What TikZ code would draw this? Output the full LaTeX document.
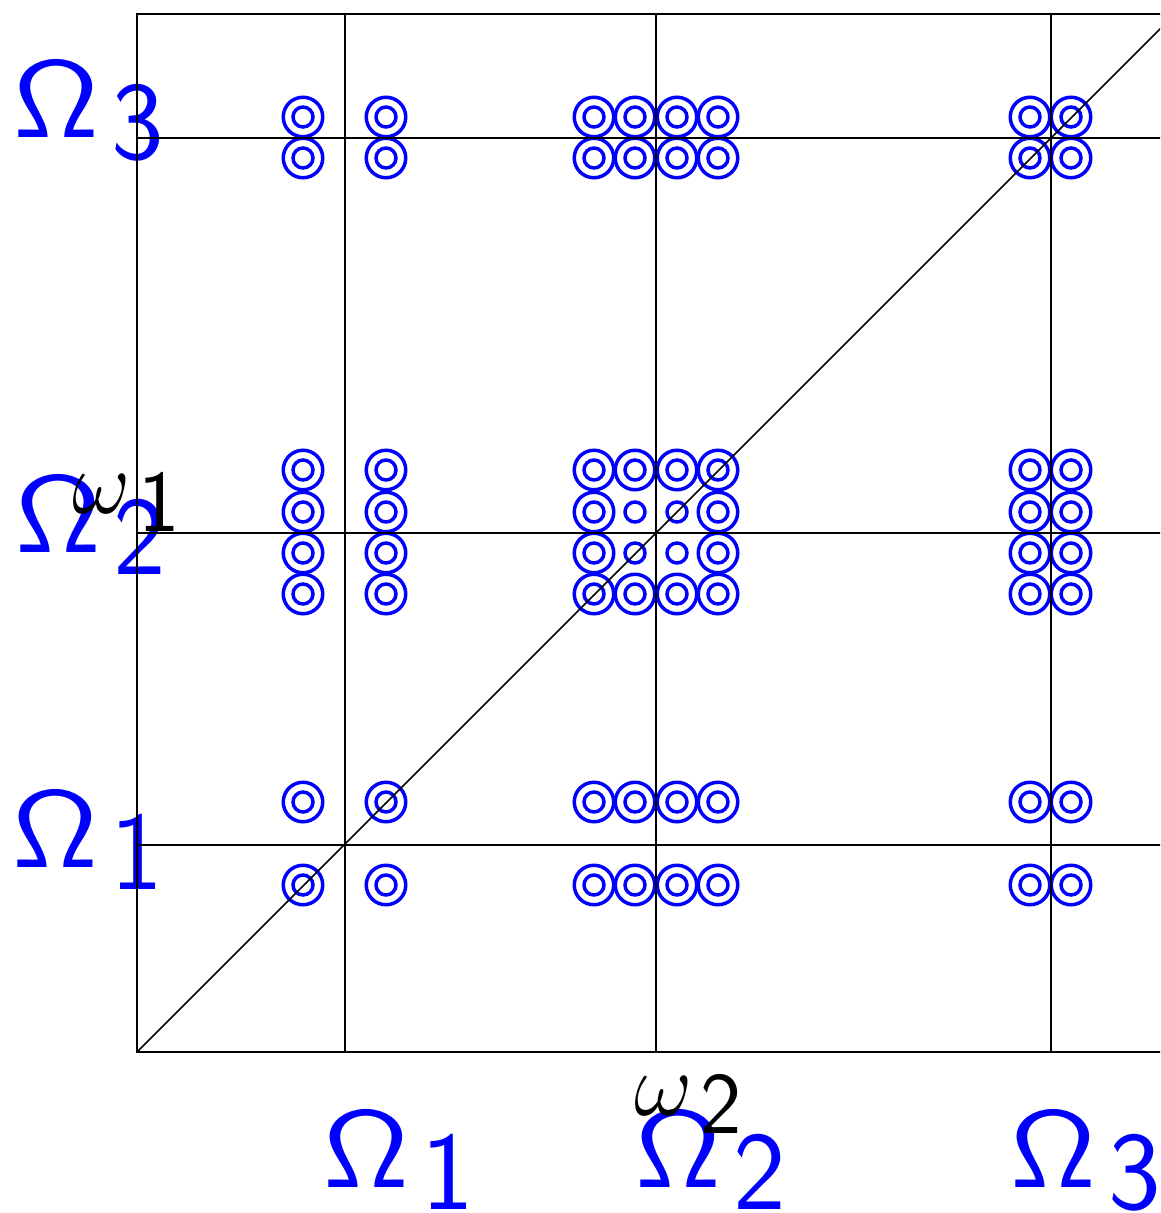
\RequirePackage{fix-cm}
\documentclass[tikz,border=0pt]{standalone}
\usepackage{graphicx}
\newcommand\omlab[1]{\scalebox{1.15}[1]{\fontsize{110}{110}\selectfont$\mathsf{\Omega}$}\hspace{12pt}\raisebox{-22pt}{\fontsize{112}{112}\selectfont\sffamily #1}}
\newcommand\wlab[1]{{\fontsize{90}{90}\selectfont$\omega$}\hspace{8pt}\raisebox{-18pt}{\fontsize{88}{88}\selectfont\sffamily #1}}
\tikzset{
  gridline/.style={line width=1.5pt, black},
  outerring/.style={circle, draw=blue, line width=3.5pt, minimum size=39.5pt, inner sep=0pt},
  innerring/.style={circle, draw=blue, line width=3.5pt, minimum size=20pt, inner sep=0pt},
  omlabel/.style={text=blue, inner sep=0pt, anchor=base west},
  wlabel/.style={text=black, inner sep=0pt, anchor=base west}
}
\begin{document}
\begin{tikzpicture}[x=1pt,y=-1pt]
\useasboundingbox (0,0) rectangle (1160,1213);
% rings
\foreach \x [count=\i] in {303,386,594,635,677,718,1030,1071} {
  \foreach \y [count=\j] in {117,158,470,512,553,594,802,885} {
    \pgfmathtruncatemacro\central{and(or(\i==4,\i==5),or(\j==4,\j==5))}
    \ifnum\central=0
      \node[outerring] (o\i-\j) at (\x,\y) {};
    \fi
    \node[innerring] (r\i-\j) at (\x,\y) {};
  }
}
% Omega labels
\node[omlabel] (L3) at (13,137) {\omlab{3}};
\node[omlabel] (L2) at (15,552) {\omlab{2}};
\node[omlabel] (L1) at (12,867) {\omlab{1}};
\node[omlabel] (B1) at (323,1187) {\omlab{1}};
\node[omlabel] (B2) at (635,1187) {\omlab{2}};
\node[omlabel] (B3) at (1010,1187) {\omlab{3}};
% grid
\begin{scope}
\clip (0,0) rectangle (1160,1213);
\coordinate (O) at (137,1052);
\coordinate (TR) at (1175,14);
\draw[gridline] (137,14) rectangle (1175,1052);
\foreach \v in {345,656,1051} \draw[gridline] (\v,14) -- (\v,1052);
\foreach \h in {138,533,845} \draw[gridline] (137,\h) -- (1175,\h);
\draw[gridline] (O) -- (TR);
\end{scope}
% omega labels
\node[wlabel] (W1) at (72,513) {\wlab{1}};
\node[wlabel] (W2) at (634,1115) {\wlab{2}};
\end{tikzpicture}
\end{document}
